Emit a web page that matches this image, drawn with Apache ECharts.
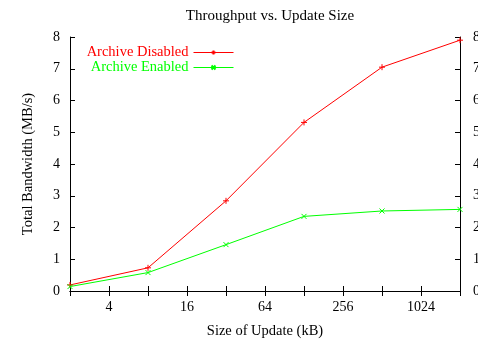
<!DOCTYPE html>
<html>
<head>
<meta charset="utf-8">
<script src="https://cdn.jsdelivr.net/npm/echarts@6/dist/echarts.min.js"></script>
<style>
  html, body { margin: 0; padding: 0; background: #fff; }
  #chart { width: 478px; height: 340px; }
</style>
</head>
<body>
<div id="chart"></div>
<script>
// Update sizes in kB (log2 x axis) and measured throughput in MB/s
const updateSizes = [2, 8, 32, 128, 512, 2048];
const archiveDisabled = [0.19, 0.73, 2.84, 5.31, 7.05, 7.9];
const archiveEnabled = [0.14, 0.58, 1.46, 2.35, 2.52, 2.57];
const xTickLabels = [4, 16, 64, 256, 1024];
const yTicks = [0, 1, 2, 3, 4, 5, 6, 7, 8];

const FONT = '"Liberation Serif", "DejaVu Serif", serif';
const plusPath = 'path://M5 0 L5 10 M0 5 L10 5';
const crossPath = 'path://M0 0 L10 10 M10 0 L0 10';

const pairs = (ys) => updateSizes.map((x, i) => [x, ys[i]]);

const chart = echarts.init(document.getElementById('chart'), null, { renderer: 'canvas' });

const axisLine = { show: true, lineStyle: { color: '#000', width: 1 } };
const axisTickIn = { show: true, inside: true, length: 5, lineStyle: { color: '#000' } };

chart.setOption({
  animation: false,
  backgroundColor: '#fff',
  title: {
    text: 'Throughput vs. Update Size',
    left: 265, top: 4, textAlign: 'center',
    textStyle: { fontFamily: FONT, fontWeight: 'normal', fontSize: 15, color: '#000' }
  },
  legend: {
    orient: 'vertical',
    align: 'right',
    right: 239, top: 40,
    itemWidth: 40, itemHeight: 5, itemGap: 0,
    lineStyle: { width: 1 },
    textStyle: { fontFamily: FONT, fontSize: 14.5 },
    data: [
      { name: 'Archive Disabled', textStyle: { color: '#ff0000' } },
      { name: 'Archive Enabled', textStyle: { color: '#00ff00' } }
    ]
  },
  grid: { left: 70, right: 18, top: 37, bottom: 49, containLabel: false, outerBoundsMode: 'none' },
  xAxis: [
    {
      type: 'log', logBase: 2, min: 2, max: 2048, interval: 1,
      position: 'bottom',
      name: 'Size of Update (kB)', nameLocation: 'middle', nameGap: 33,
      nameTextStyle: { fontFamily: FONT, fontSize: 14.5, color: '#000' },
      axisLine, axisTick: axisTickIn,
      splitLine: { show: false }, minorTick: { show: false },
      axisLabel: {
        fontFamily: FONT, fontSize: 14, color: '#000', margin: 9,
        showMinLabel: true, showMaxLabel: true, interval: 0,
        formatter: (v) => xTickLabels.includes(Math.round(v)) ? String(Math.round(v)) : ''
      }
    },
    {
      type: 'log', logBase: 2, min: 2, max: 2048, interval: 1,
      position: 'top',
      axisLine, axisTick: axisTickIn,
      splitLine: { show: false },
      axisLabel: { show: false }
    }
  ],
  yAxis: [
    {
      type: 'value', min: 0, max: 8, interval: 1,
      position: 'left',
      name: 'Total Bandwidth (MB/s)', nameLocation: 'middle', nameGap: 34,
      nameTextStyle: { fontFamily: FONT, fontSize: 14.5, color: '#000' },
      axisLine, axisTick: axisTickIn,
      splitLine: { show: false },
      axisLabel: { fontFamily: FONT, fontSize: 14, color: '#000', margin: 10,
        formatter: (v) => yTicks.includes(v) ? String(v) : '' }
    },
    {
      type: 'value', min: 0, max: 8, interval: 1,
      position: 'right',
      axisLine, axisTick: axisTickIn,
      splitLine: { show: false },
      axisLabel: { fontFamily: FONT, fontSize: 14, color: '#000', margin: 13 }
    }
  ],
  series: [
    {
      name: 'Archive Disabled', type: 'line',
      data: pairs(archiveDisabled),
      symbol: plusPath, symbolSize: 6, showSymbol: true,
      itemStyle: { color: '#ff0000', borderColor: '#ff0000', borderWidth: 1 },
      lineStyle: { color: '#ff0000', width: 1 },
      clip: false
    },
    {
      name: 'Archive Enabled', type: 'line',
      data: pairs(archiveEnabled),
      symbol: crossPath, symbolSize: 5, showSymbol: true,
      itemStyle: { color: '#00ff00', borderColor: '#00ff00', borderWidth: 1 },
      lineStyle: { color: '#00ff00', width: 1 },
      clip: false
    }
  ]
});
</script>
</body>
</html>
